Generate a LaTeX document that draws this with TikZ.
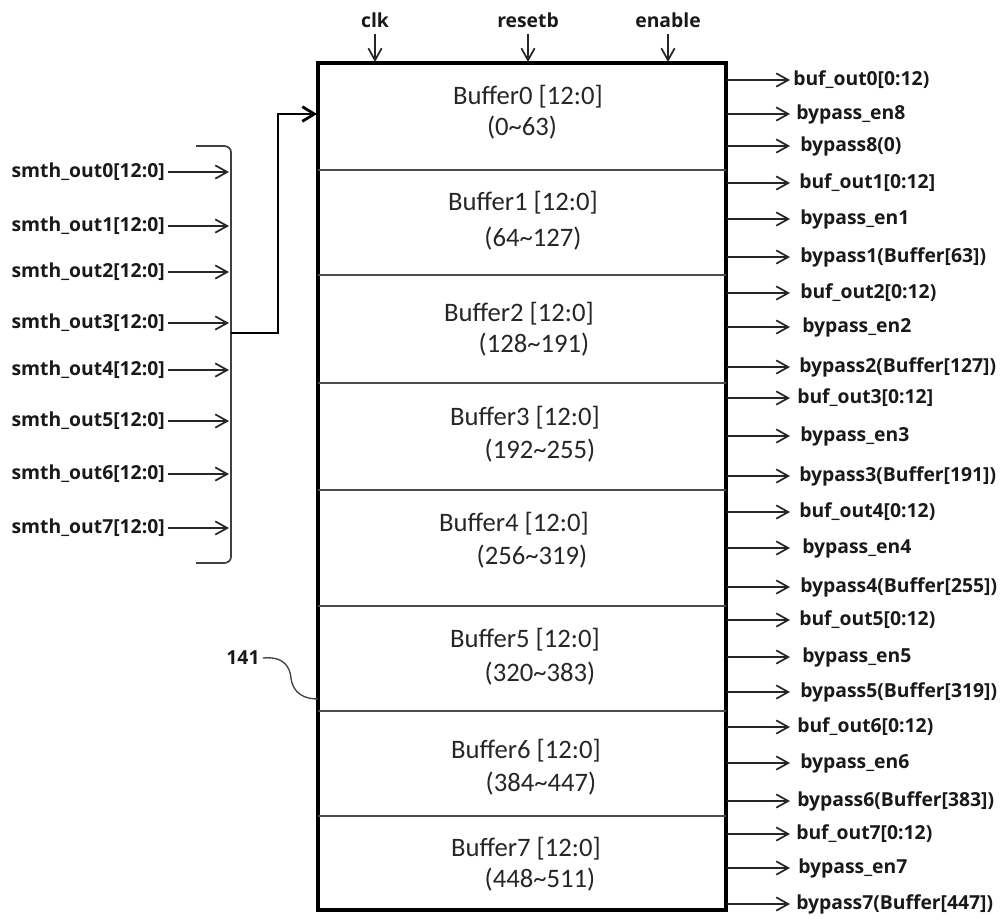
\documentclass[tikz,border=0pt]{standalone}
\usepackage{fontspec}
\setmainfont{Carlito}
\newfontfamily\lblfont{Open Sans}
\usetikzlibrary{arrows.meta}
\begin{document}
\begin{tikzpicture}[x=0.75pt,y=-0.75pt,
  sig/.style={font=\lblfont\bfseries\fontsize{14.5}{17}\selectfont, inner sep=0pt, text=black!90},
  buf/.style={font=\fontsize{20}{24}\selectfont, inner sep=0pt, text=black!85},
  arr/.style={-{Straight Barb[length=9pt,width=10pt]}, line width=1.3pt, black!85},
  outline/.style={line width=2.3pt, black},
  divider/.style={line width=1.2pt, black!70},
  bracket/.style={line width=1.3pt, black!75},
  busline/.style={line width=2.1pt, black, -{Straight Barb[length=9pt,width=11pt]}, line join=miter},
]
\useasboundingbox (0,0) rectangle (1003,918);

% main block
\draw[outline] (318,63) rectangle (726,910);
\foreach \y in {170,275,383,490,606,711,816}
  \draw[divider] (318,\y) -- (726,\y);

% buffer labels
\node[buf] (b0a) at (528,97) {Buffer0 [12:0]};
\node[buf] (b0b) at (522,128) {(0\textasciitilde63)};
\node[buf] (b1a) at (523,203) {Buffer1 [12:0]};
\node[buf] (b1b) at (533,239) {(64\textasciitilde127)};
\node[buf] (b2a) at (519,314) {Buffer2 [12:0]};
\node[buf] (b2b) at (534,345) {(128\textasciitilde191)};
\node[buf] (b3a) at (525,418) {Buffer3 [12:0]};
\node[buf] (b3b) at (540,451) {(192\textasciitilde255)};
\node[buf] (b4a) at (514,524) {Buffer4 [12:0]};
\node[buf] (b4b) at (532,557) {(256\textasciitilde319)};
\node[buf] (b5a) at (525,640) {Buffer5 [12:0]};
\node[buf] (b5b) at (540,674) {(320\textasciitilde383)};
\node[buf] (b6a) at (526,751) {Buffer6 [12:0]};
\node[buf] (b6b) at (541,784) {(384\textasciitilde447)};
\node[buf] (b7a) at (526,849) {Buffer7 [12:0]};
\node[buf] (b7b) at (540,880) {(448\textasciitilde511)};

% top inputs
\foreach \n/\x/\t in {clk/375/clk, resetb/528/resetb, enable/668/enable}{
  \node[sig] (\n) at (\x,20) {\t};
  \coordinate (\n in) at (\x,62);
  \draw[arr] (\n.south) ++(0,6) -- (\n in);
}

% right outputs
\foreach \i/\y/\x/\t in {
  0/80/793/{buf\_out0[0:12)},
  1/114/796/{bypass\_en8},
  2/146/800/{bypass8(0)},
  3/183/799/{buf\_out1[0:12]},
  4/219/800/{bypass\_en1},
  5/257/800/{bypass1(Buffer[63])},
  6/293/800/{buf\_out2[0:12)},
  7/327/802/{bypass\_en2},
  8/367/799/{bypass2(Buffer[127])},
  9/398/797/{buf\_out3[0:12]},
  10/436/800/{bypass\_en3},
  11/476/799/{bypass3(Buffer[191])},
  12/512/799/{buf\_out4[0:12)},
  13/548/802/{bypass\_en4},
  14/587/800/{bypass4(Buffer[255])},
  15/620/799/{buf\_out5[0:12)},
  16/657/802/{bypass\_en5},
  17/692/800/{bypass5(Buffer[319])},
  18/727/797/{buf\_out6[0:12)},
  19/763/800/{bypass\_en6},
  20/801/797/{bypass6(Buffer[383])},
  21/834/796/{buf\_out7[0:12)},
  22/868/798/{bypass\_en7},
  23/904/796/{bypass7(Buffer[447])}}{
  \node[sig, anchor=base west] (o\i) at (\x,\y+5.5) {\t};
  \coordinate (s\i) at (727,\y);
  \draw[arr] (s\i) -- (790,\y);
}

% left inputs and bus bracket
\foreach \i/\y in {0/172,1/226,2/272,3/323,4/370,5/421,6/474,7/528}{
  \node[sig, anchor=base east] (m\i) at (165,\y+5.5) {smth\_out\i[12:0]};
  \coordinate (k\i) at (229,\y);
  \draw[arr] (m\i.east |- k\i) ++(3,0) -- (k\i);
}
\draw[bracket] (196,146) -- (224,146) to[out=0,in=90] (231,152) -- (231,557)
  to[out=-90,in=0] (224,563) -- (196,563);
\coordinate (bus) at (231,333);
\coordinate (b0in) at (317,114);
\draw[busline] (bus) -- (278,333) -- (278,114) -- (b0in);

% reference numeral
\node[sig] (r141) at (243,658) {141};
\coordinate (wall) at (318,699);
\draw[line width=1pt, black!75] (r141.east) ++(3,0) .. controls (285,656) and (290,668) .. (291,678)
  .. controls (293,694) and (305,699) .. (wall);
\end{tikzpicture}
\end{document}
